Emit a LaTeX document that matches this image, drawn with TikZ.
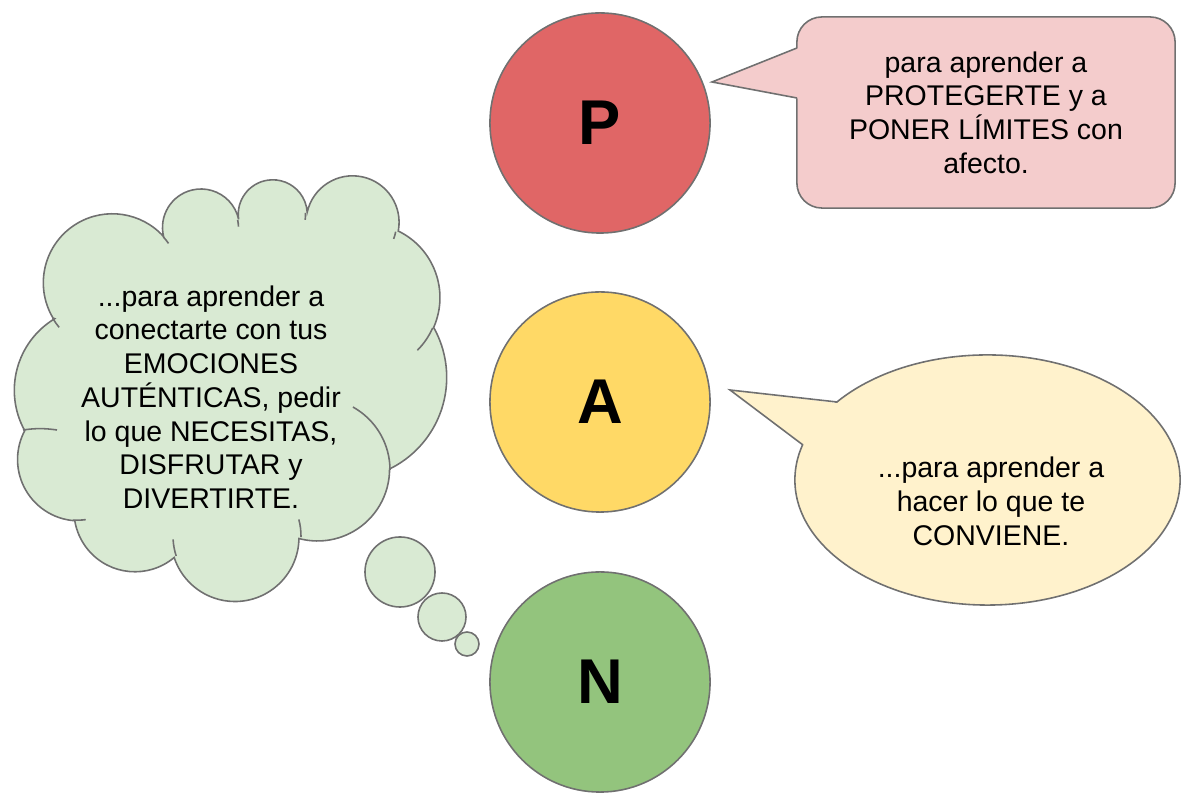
\documentclass[tikz,border=0pt]{standalone}
\usepackage{fontspec}
\setmainfont{Liberation Sans}
\usetikzlibrary{shapes.geometric}
\definecolor{pred}{HTML}{E06666}
\definecolor{ayellow}{HTML}{FFD966}
\definecolor{ngreen}{HTML}{93C47D}
\definecolor{ppink}{HTML}{F4CCCC}
\definecolor{apale}{HTML}{FFF2CC}
\definecolor{ncloud}{HTML}{D9EAD3}
\definecolor{edgegray}{HTML}{707070}
\tikzset{
  outline/.style={draw=edgegray, line width=0.45pt},
  letter/.style={outline, circle, minimum size=2.2cm, inner sep=0pt,
    font=\fontsize{18}{21}\selectfont\bfseries},
  bubbletext/.style={align=center, inner sep=0pt,
    font=\fontsize{8.1}{9.6}\selectfont},
  puff/.style={outline, fill=ncloud, circle, inner sep=0pt}
}

\begin{document}
\begin{tikzpicture}[x=0.01cm, y=0.01cm]
  \useasboundingbox (0,0) rectangle (1181,794);

  % Letters
  \node[letter, fill=pred] (P) at (600,671) {P};
  \node[letter, fill=ayellow] (A) at (600,392) {A};
  \node[letter, fill=ngreen] (N) at (600,112) {N};

  % P callout
  \node[outline, fill=ppink, rectangle, rounded corners=0.25cm,
    minimum width=3.78cm, minimum height=1.91cm, bubbletext] (Pnote) at (986,681.5)
    {para aprender a\\PROTEGERTE y a\\PONER LÍMITES con\\afecto.};
  \coordinate (Ptip) at (712,712);
  \fill[ppink] (Ptip) -- (801,747) -- (801,695) -- cycle;
  \draw[outline] (797,746) -- (Ptip) -- (797,696);

  % A callout
  \node[outline, fill=apale, ellipse, minimum width=3.85cm, minimum height=2.5cm] (Aballoon) at (987.5,314) {};
  \coordinate (Atip) at (730,404);
  \fill[apale] (Atip) -- (845,390) -- (809,345) -- cycle;
  \draw[outline] (837,392) -- (Atip) -- (803,349);
  \node[bubbletext] (Atext) at (991,292.5) {...para aprender a\\hacer lo que te\\CONVIENE.};

  % N cloud
  \draw[outline, fill=ncloud] (53,476)
    arc[start angle=210.7, end angle=42, radius=69]
    arc[start angle=193.7, end angle=12.2, radius=38.5]
    arc[start angle=188.4, end angle=3.4, radius=34.5]
    arc[start angle=167.5, end angle=-10.8, radius=46.5]
    arc[start angle=64.1, end angle=-23.8, radius=74]
    arc[start angle=29.3, end angle=-63.9, radius=102]
    arc[start angle=0, end angle=-105, radius=72]
    arc[start angle=-0.9, end angle=-161.8, radius=64]
    arc[start angle=-50, end angle=-170.6, radius=61]
    arc[start angle=-93.9, end angle=-208, radius=61.4]
    arc[start angle=208.9, end angle=121.1, radius=83.6]
    -- cycle;
  % inner folds
  \draw[outline] (112,511) ++(210.7:69) arc[start angle=210.7, end angle=220, radius=69];
  \draw[outline] (112,511) ++(42:69) arc[start angle=42, end angle=35, radius=69];
  \draw[outline] (200,566) ++(12.2:38.5) arc[start angle=12.2, end angle=2, radius=38.5];
  \draw[outline] (271,579) ++(3.4:34.5) arc[start angle=3.4, end angle=-8, radius=34.5];
  \draw[outline] (350,571) ++(-10.8:46.5) arc[start angle=-10.8, end angle=-20, radius=46.5];
  \draw[outline] (365,496) ++(-23.8:74) arc[start angle=-23.8, end angle=-45, radius=74];
  \draw[outline] (318,324) ++(61:72) arc[start angle=61, end angle=0, radius=72];
  \draw[outline] (237,258) ++(15:64) arc[start angle=15, end angle=-1, radius=64];
  \draw[outline] (237,258) ++(-161.8:64) arc[start angle=-161.8, end angle=-177, radius=64];
  \draw[outline] (77.2,335.2) ++(-93.9:61.4) arc[start angle=-93.9, end angle=-82, radius=61.4];
  \draw[outline] (23,364) to[bend left=8] (57,364);
  \node[bubbletext] (Ntext) at (211,397) {...para aprender a\\conectarte con tus\\EMOCIONES\\AUTÉNTICAS, pedir\\lo que NECESITAS,\\DISFRUTAR y\\DIVERTIRTE.};

  % thought puffs
  \node[puff, minimum size=0.7cm] (puff1) at (400,222) {};
  \node[puff, minimum size=0.48cm] (puff2) at (442,177) {};
  \node[puff, minimum size=0.24cm] (puff3) at (467,150) {};
\end{tikzpicture}
\end{document}
